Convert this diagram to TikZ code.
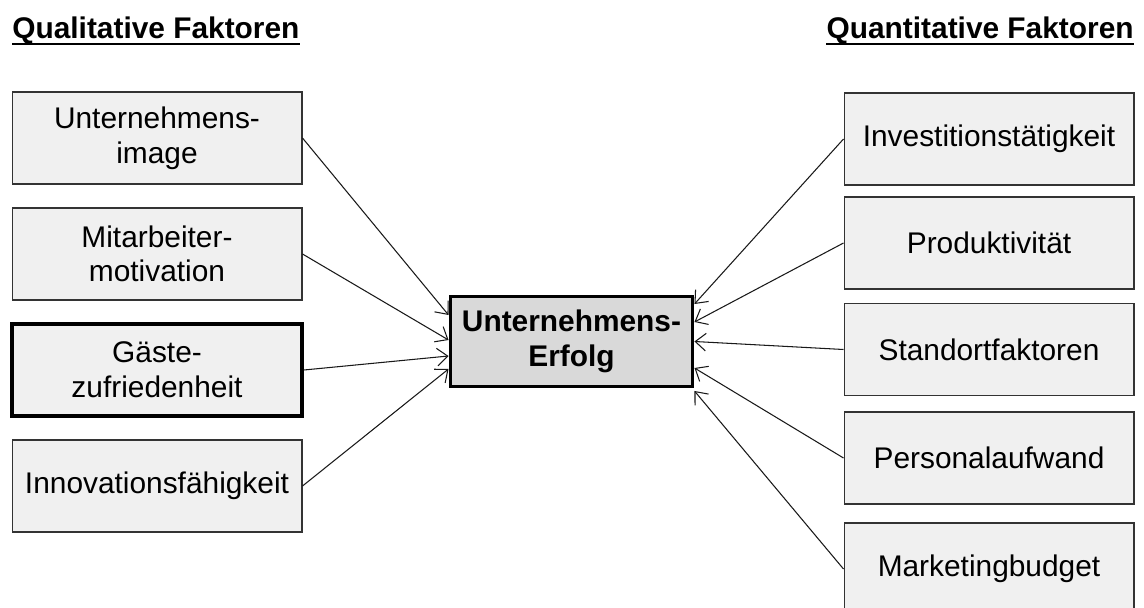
\documentclass[tikz,border=0pt]{standalone}
\usepackage{fontspec}
\setmainfont{Liberation Sans}
\usetikzlibrary{arrows.meta}
\begin{document}
\begin{tikzpicture}[x=0.02cm,y=-0.02cm,
        >={Straight Barb[length=6pt,width=10pt]},
        factor/.style={rectangle,draw=black!80,fill=black!6,line width=0.6pt,
          inner sep=0pt,minimum width=5.8cm,minimum height=1.84cm,align=center,
          font=\fontsize{17}{19.7}\selectfont},
        result/.style={rectangle,draw=black,fill=black!15,line width=1.7pt,
          inner sep=0pt,minimum width=4.86cm,minimum height=1.82cm,align=center,
          font=\fontsize{17}{19.7}\selectfont\bfseries},
        heading/.style={inner sep=0pt,font=\fontsize{17}{19.7}\selectfont\bfseries},
        link/.style={->,line width=0.6pt,black!90}]
      \useasboundingbox (0,0) rectangle (1144,608);
      % headings
      \node (qual) at (12,39) [heading,anchor=base west] {Qualitative Faktoren};
      \node (quan) at (1134,39) [heading,anchor=base east] {Quantitative Faktoren};
      \draw[line width=1.1pt] ([yshift=-2.8pt]qual.base west) -- ([yshift=-2.8pt]qual.base east);
      \draw[line width=1.1pt] ([yshift=-2.8pt]quan.base west) -- ([yshift=-2.8pt]quan.base east);
      % qualitative
      \node (img) at (157,138) [factor] {Unternehmens-\\image};
      \node (mot) at (157,254) [factor] {Mitarbeiter-\\motivation};
      \node (gast) at (157,370) [factor,line width=2.2pt,draw=black] {Gäste-\\zufriedenheit};
      \node (inno) at (157,486) [factor] {Innovationsfähigkeit};
      % center
      \node (erfolg) at (571.5,341.5) [result] {Unternehmens-\\Erfolg};
      % quantitative
      \node (inv) at (989,139) [factor] {Investitionstätigkeit};
      \node (prod) at (989,243) [factor] {Produktivität};
      \node (stand) at (989,349.5) [factor] {Standortfaktoren};
      \node (pers) at (989,458) [factor] {Personalaufwand};
      \node (mark) at (989,569) [factor] {Marketingbudget};
      \draw (img.east) edge[link] ([yshift=0.53cm]erfolg.west);
      \draw (mot.east) edge[link] ([yshift=0.03cm]erfolg.west);
      \draw (gast.east) edge[link] ([yshift=-0.29cm]erfolg.west);
      \draw (inno.east) edge[link] ([yshift=-0.55cm]erfolg.west);
      \draw (inv.west) edge[link] ([yshift=0.75cm]erfolg.east);
      \draw (prod.west) edge[link] ([yshift=0.39cm]erfolg.east);
      \draw (stand.west) edge[link] ([yshift=0cm]erfolg.east);
      \draw (pers.west) edge[link] ([yshift=-0.53cm]erfolg.east);
      \draw (mark.west) edge[link] ([yshift=-0.99cm]erfolg.east);
\end{tikzpicture}
\end{document}
